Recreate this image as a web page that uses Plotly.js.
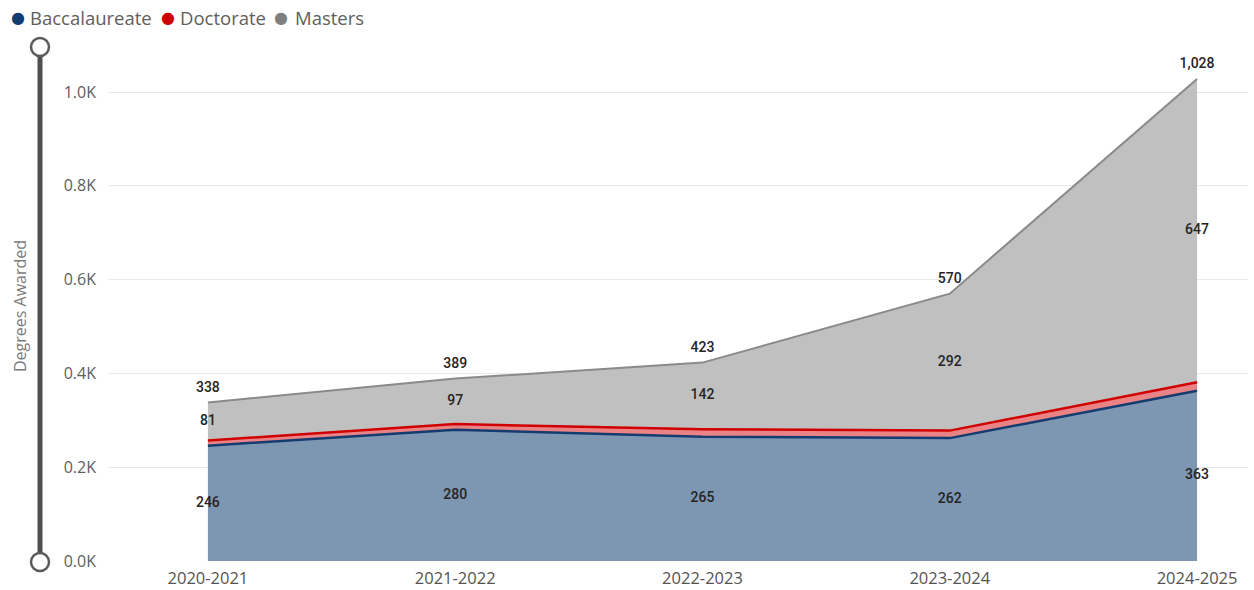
<!DOCTYPE html>
<html>
<head>
<meta charset="utf-8">
<script src="https://cdn.plot.ly/plotly-3.0.1.min.js"></script>
<style>html,body{margin:0;padding:0;background:#fff;}#chart{width:1254px;height:590px;}</style>
</head>
<body>
<div id="chart"></div>
<script>
const years = ["2020-2021", "2021-2022", "2022-2023", "2023-2024", "2024-2025"];
const baccalaureate = [246, 280, 265, 262, 363];
const doctorate = [11, 12, 16, 16, 18];
const masters = [81, 97, 142, 292, 647];
const seriesNames = ["Baccalaureate", "Doctorate", "Masters"];
const yTickVals = [0, 200, 400, 600, 800, 1000];
const yTickText = ["0.0K", "0.2K", "0.4K", "0.6K", "0.8K", "1.0K"];

const totals = years.map((_, i) => baccalaureate[i] + doctorate[i] + masters[i]);
const fmt = v => v.toLocaleString('en-US');
const labelFont = {family: 'Roboto, "DejaVu Sans", sans-serif', size: 14, color: '#252423', weight: 500};
const lineColors = ['#143C70', '#D10000', '#8A8A8A'];
const bulletColors = ['#123D73', '#D10000', '#7F7F7F'];

const traces = [
  {x: years, y: baccalaureate, name: seriesNames[0], type: 'scatter', mode: 'lines', stackgroup: 'one',
   line: {color: lineColors[0], width: 2.5}, fillcolor: '#7D96B1', showlegend: false},
  {x: years, y: doctorate, name: seriesNames[1], type: 'scatter', mode: 'lines', stackgroup: 'one',
   line: {color: lineColors[1], width: 2.5}, fillcolor: '#E98385', showlegend: false},
  {x: years, y: masters, name: seriesNames[2], type: 'scatter', mode: 'lines', stackgroup: 'one',
   line: {color: lineColors[2], width: 2}, fillcolor: '#C0C0C0', showlegend: false},
  {x: years, y: baccalaureate.map(v => v / 2), text: baccalaureate.map(fmt), type: 'scatter', mode: 'text',
   textposition: 'middle center', textfont: labelFont, hoverinfo: 'skip', showlegend: false, cliponaxis: false},
  {x: years, y: masters.map((v, i) => baccalaureate[i] + doctorate[i] + v / 2), text: masters.map(fmt), type: 'scatter', mode: 'text',
   textposition: 'middle center', textfont: labelFont, hoverinfo: 'skip', showlegend: false, cliponaxis: false},
  {x: years, y: totals, text: totals.map(fmt), type: 'scatter', mode: 'markers+text',
   marker: {size: 10, opacity: 0}, textposition: 'top center', textfont: labelFont, hoverinfo: 'skip', showlegend: false, cliponaxis: false}
];

const W = 1140, H = 521;
const px = v => (v - 108) / W;
const py = v => (561 - v) / H;

const bulletX = [18, 168, 281];
const textX = [28, 178, 293];
const legendAnn = [];
seriesNames.forEach((n, i) => {
  legendAnn.push({text: '●', xref: 'paper', yref: 'paper', x: px(bulletX[i]), y: py(17), xanchor: 'center', yanchor: 'middle',
    showarrow: false, font: {size: 16, color: bulletColors[i], family: '"DejaVu Sans", sans-serif'}});
  legendAnn.push({text: n, xref: 'paper', yref: 'paper', x: px(textX[i]), y: py(17), xanchor: 'left', yanchor: 'middle',
    showarrow: false, font: {size: 18.5, color: '#605E5C'}});
});

const layout = {
  width: 1254, height: 590,
  margin: {l: 108, r: 6, t: 40, b: 29},
  paper_bgcolor: '#ffffff', plot_bgcolor: '#ffffff',
  font: {family: '"Open Sans", "Noto Sans", sans-serif', color: '#605E5C'},
  showlegend: false,
  xaxis: {
    type: 'category', range: [-0.404, 4.206], showgrid: false, zeroline: false, showline: false,
    ticks: '', ticklabelstandoff: 5, tickfont: {size: 16.5, color: '#555350'}, fixedrange: true
  },
  yaxis: {
    range: [0, 1110.9], tickvals: yTickVals, ticktext: yTickText, showgrid: true, gridcolor: '#E9E9E9', gridwidth: 1,
    zeroline: false, showline: false, ticks: '', ticklabelstandoff: 11, tickfont: {size: 16, color: '#605E5C'},
    title: {text: ''}, fixedrange: true
  },
  shapes: [
    {type: 'line', xref: 'paper', yref: 'paper', x0: px(40), x1: px(40), y0: py(56), y1: py(553),
     line: {color: '#4F4F4F', width: 5}},
    {type: 'circle', xref: 'paper', yref: 'paper', x0: px(31), x1: px(49), y0: py(38), y1: py(56),
     fillcolor: '#ffffff', line: {color: '#5A5A5A', width: 2.5}},
    {type: 'circle', xref: 'paper', yref: 'paper', x0: px(31), x1: px(49), y0: py(553), y1: py(571),
     fillcolor: '#ffffff', line: {color: '#5A5A5A', width: 2.5}}
  ],
  annotations: [
    {text: 'Degrees Awarded', xref: 'paper', yref: 'paper', x: px(20), y: py(306), textangle: -90,
     showarrow: false, xanchor: 'center', yanchor: 'middle', font: {size: 16, color: '#7A7A7A'}}
  ].concat(legendAnn)
};

Plotly.newPlot('chart', traces, layout, {displayModeBar: false});
</script>
</body>
</html>
